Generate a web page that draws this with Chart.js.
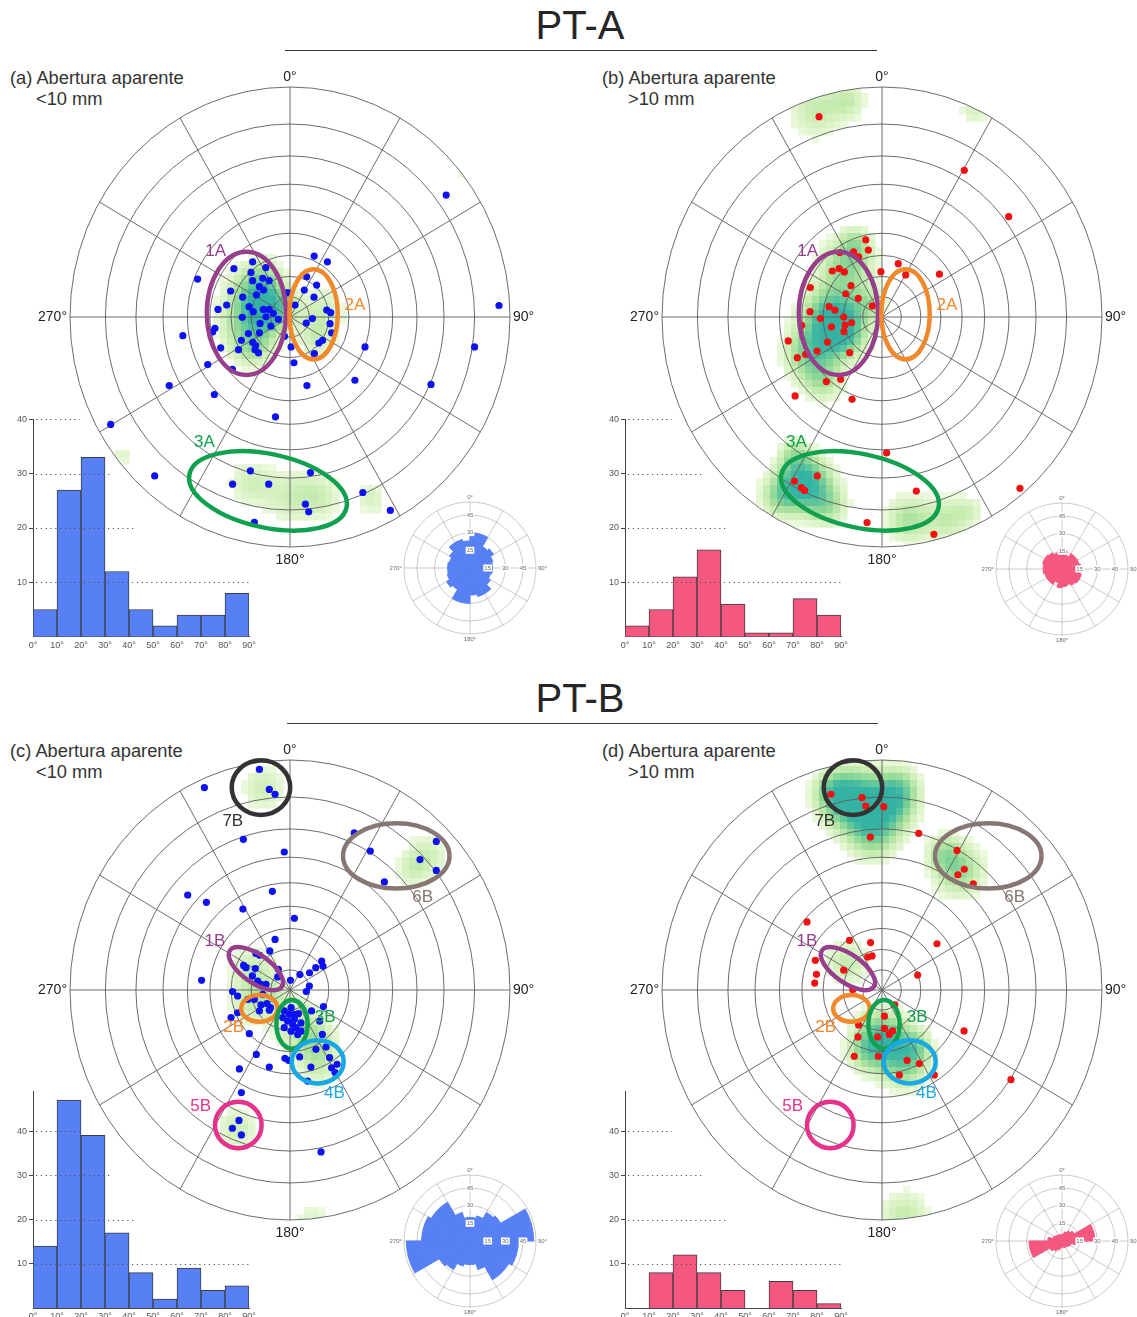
<!DOCTYPE html>
<html lang="pt">
<head>
<meta charset="utf-8">
<title>PT-A / PT-B</title>
<script src="https://cdn.jsdelivr.net/npm/chart.js@4.4.1/dist/chart.umd.min.js"></script>
<style>
  html, body { margin: 0; padding: 0; background: #fff; }
  body { position: relative; width: 1137px; height: 1317px; overflow: hidden; font-family: 'Liberation Sans', Arial, sans-serif; color: #333; }
  canvas, .txt, .rule { position: absolute; }
  .txt { white-space: nowrap; line-height: 1; transform: translateY(-50%); }
  .big { font-size: 40px; color: #262626; transform: translate(-50%, -50%); }
  .sub { font-size: 18.3px; color: #333; }
  .rule { height: 0; border-top: 1.3px solid #3a3a3a; }
</style>
</head>
<body>
<div class="txt big" style="left:580px;top:25px">PT-A</div>
<div class="rule" style="left:285px;top:50px;width:592px"></div>
<div class="txt big" style="left:580px;top:698px">PT-B</div>
<div class="rule" style="left:287px;top:723px;width:591px"></div>

<div class="txt sub" style="left:10px;top:78px">(a) Abertura aparente</div>
<div class="txt sub" style="left:36px;top:99px">&lt;10 mm</div>
<div class="txt sub" style="left:602px;top:78px">(b) Abertura aparente</div>
<div class="txt sub" style="left:628px;top:99px">&gt;10 mm</div>
<div class="txt sub" style="left:10px;top:751px">(c) Abertura aparente</div>
<div class="txt sub" style="left:36px;top:772px">&lt;10 mm</div>
<div class="txt sub" style="left:602px;top:751px">(d) Abertura aparente</div>
<div class="txt sub" style="left:628px;top:772px">&gt;10 mm</div>

<script>
// ---- data ----
// poles, projected (equal angle), in % of the net radius: [east, north]
const ptsA = [
  [71,53],[95,5],[-42,16.5],[11,26.5],[17,24],[-17,24],[-25.5,21],[-11,21.5],[-17.7,19.4],[-17,15.8],
  [-12.4,16.8],[-9.5,15.8],[-13.9,13.2],[-12,11.7],[-15.2,9.6],[-27,11.3],[-21.5,8.6],[-28.8,5.2],[-32.7,3.3],[-18.6,4.5],
  [-12.1,3.3],[-9.5,3.3],[-7.6,1.6],[-10.9,0.1],[-16.7,2.3],[-21.7,-0.1],[-5.3,-1],[7.6,17.5],[12.1,13.9],[6.5,11.7],
  [10.9,8.6],[-1.1,10.6],[2.3,5.2],[16.7,3],[18.5,1.9],[10.2,-0.7],[-13.6,-2.8],[-34.1,-4.9],
  [-8.7,-4],[-18.9,-7.2],[-13.9,-6.9],[-22.1,-10.1],[-16.9,-11],[-15.6,-12.4],[-15.9,-14.2],[-14.3,-15.6],[-23.4,-14.2],[-31.5,-13.4],
  [-35.2,-6.5],[-48.7,-8.1],[-37.4,-20.7],[-26.2,-22.8],[-2.5,-8.4],[0.5,-13],[1.8,-19.9],[7.4,-2.6],[13.1,-11.3],[14.8,-10.1],
  [11.1,-15.9],[18.2,-2.9],[18.9,-6.9],[34.1,-13],[83.9,-13],[64.1,-29.3],[29.5,-27.5],[7.7,-29.8],[-34.4,-33.7],[-54.9,-29.8],
  [-81.5,-46.7],[-6.6,-43.4],[-61.5,-69.1],[-18,-66.9],[-26.1,-72.7],[-9.7,-72.7],[9.3,-67.6],[33.1,-76.3],[7,-81.4],[8.5,-84.7],
  [-16.2,-89.3],[45.6,-84.1]
];
const ptsB = [
  [-28.6,87.1],[37.4,63.8],[57.6,43.6],[-7.4,33.5],[-6.2,29.1],[-12.9,28.3],[-10.6,26.2],[-19.2,28],[-22.6,20],[-19.5,21],
  [-17.1,19.6],[-0.5,19.7],[7.4,23.2],[10.8,18.3],[26.1,18.6],[-32.6,12.8],[-14.1,13.6],[-16.5,10.1],[-10.8,8.1],[-4.4,4.8],
  [-24.1,4.5],[-21.4,3],[-32.7,2.3],[-28,-0.7],[-17.4,0],[-16.8,-3.5],[-13.8,-2.5],[-23,-4.3],[-17.3,-6.4],[-36.5,-3.6],
  [-42.6,-10.4],[-24.8,-10.9],[-38.5,-17.7],[-34.7,-16.2],[-29.5,-14.8],[-14.7,-15.5],[-25.3,-28.1],[-18.8,-27.1],[-39.5,-34.3],[-13.6,-35.8],
  [2.1,-59.1],[-29.4,-69.1],[-39.8,-71.4],[-36.7,-74.2],[-35.2,-75.4],[15.6,-75.7],[-6.8,-89.4],[23.6,-94.5],[62.7,-74.5]
];
const ptsC = [
  [-13.9,95.9],[-9.4,87.2],[-6.8,85.1],[-38.9,88],[-21.2,65.5],[-2.6,60],[29.2,68.3],[36.5,60.4],[42.9,47],[59.1,56.7],
  [66.5,64.6],[66.5,52],[-46.5,41.3],[-38,38.1],[-21.4,35.2],[-8,42.9],[2,31.2],[-6.8,22],[-40.2,4.2],[-9.2,17],
  [-15.5,15.9],[-13.8,15.1],[-21.1,10.7],[-20,9.7],[-15.8,9.3],[-17.1,6.1],[-13.2,2.5],[-10.9,2.5],[-5.6,5.7],[-5.3,9],
  [-14.7,3.9],[0.2,4.2],[4.5,6.7],[8.9,7.5],[11.7,9.7],[14.4,12.6],[15,10.3],[8.8,1.7],[7.4,-0.7],[-26.1,-0.7],
  [-23.8,-2.6],[-19.2,-4.1],[-16.2,-4.1],[-13.2,-6.5],[-10.5,-5.9],[-8.9,-7.7],[-13.9,-9.1],[-23.8,-9.9],[-26.8,-12],[-18.5,-19],
  [-15.3,-28],[-23,-34.3],[-9.4,-33.5],[-2.3,-29.7],[-0.6,-30.6],[4.4,-29.1],[9.5,-33.5],[11.8,-25.8],[16.4,-24.8],[18,-29.4],
  [21.4,-32.3],[18.9,-33.8],[20.5,-35.9],[8,-39.6],[14.7,-19.3],[15.2,-7.2],[9.8,-9.1],[13.5,-13.5],[-2.6,-9.1],[0.5,-7.7],
  [2,-10.6],[3.8,-10.3],[-1.1,-13.5],[1.2,-14.9],[2.7,-16.4],[5,-14.3],[0.5,-17.9],[3.5,-19.3],[-2.6,-16.4],[-3.3,-12],
  [2,-12.6],[5,-17.9],[-0.3,-10.6],[-23.2,-56.7],[-26.2,-60.1],[-22.1,-63],[-22.1,-44.6],[14.1,-70.4],[-9.4,-8.8],[-12.4,-1.9]
];
const ptsD = [
  [-23.2,85.1],[-9.1,83.6],[-7.4,80],[0.8,79.7],[-5.3,66.5],[16.7,68.1],[34.1,60.7],[37.4,52.5],[34.5,50.1],[41.5,46.2],
  [-34.1,29.6],[-14.8,21.6],[-5.2,20.6],[-4.5,14.8],[-6.5,14.3],[25,20.1],[-30.3,12.9],[-29.8,6.8],[-30.6,3],[-17.4,8.6],
  [16.2,6.5],[-13.3,0.1],[5.8,-6.5],[1.1,-11.4],[1.1,-16.7],[4.8,-17.8],[3.3,-19.3],[-2,-20.4],[-10.9,-20.4],[-10.6,-15.2],
  [-12.6,-28.8],[-1.7,-28.8],[11.4,-30.6],[17,-32],[7.9,-37],[23.8,-37],[37.3,-17.8],[58.6,-39]
];

// density maxima: [east, north, spread, level 0-1]
const densA = [
  [-10,4,10,0.9],[-18,10,12,0.45],[-20,-6,12,0.45],[-12,18,8,0.3],[-16,-14,8,0.3],
  [14,2,11,0.3],[12,-10,8,0.25],[-18,-72,10,0.28],[0,-78,12,0.28],[14,-78,10,0.26],
  [37,-79,7,0.25],[-76,-60,5,0.2],[79,62,5,0.15]
];
const densB = [
  [-22,-1,13,1.0],[-18,-8,10,0.5],[-16,22,12,0.55],[-12,32,7,0.35],[-33,-16,11,0.6],[-27,-28,9,0.4],[-6,6,7,0.3],
  [-35,-72,11,1.0],[-46,-78,9,0.5],[-25,-82,9,0.45],[-40,-60,7,0.35],
  [12,-88,10,0.45],[30,-88,10,0.35],[40,-84,6,0.2],[-30,90,12,0.35],[-15,94,8,0.3],[42,90,7,0.25]
];
const densC = [
  [-12,88,10,0.3],[62,58,10,0.3],[55,52,7,0.2],[-17,10,10,0.3],[-18,-5,10,0.3],[-8,-2,8,0.25],
  [3,-15,11,0.35],[12,-22,9,0.3],[13,-32,10,0.3],[-24,-60,9,0.32],[10,-99,8,0.2]
];
const densD = [
  [-12,82,13,1.0],[-22,86,9,0.5],[4,80,11,0.65],[-4,68,11,0.55],[8,88,9,0.45],
  [35,52,11,0.55],[28,60,8,0.35],[-16,12,10,0.35],
  [0,-20,11,0.75],[10,-31,11,0.65],[-7,-27,9,0.4],[15,-24,7,0.35],[10,-98,11,0.35]
];

// families: centre, half axes (% of radius), tilt, label spot
const famA = [
  {id:'1A', x:-19.8, y:1.6, a:18, b:26.8, rot:0, color:'#973f8d', lx:-33.8, ly:28.7},
  {id:'2A', x:10.7, y:1.2, a:11, b:19.6, rot:0, color:'#f0892c', lx:29.5, ly:5.2},
  {id:'3A', x:-10, y:-75.6, a:36.5, b:16, rot:12, color:'#11a050', lx:-38.9, ly:-54.6}
];
const famB = [
  {id:'7B', x:-13.2, y:88, a:13.3, b:11.9, rot:0, color:'#333333', lx:-26, ly:73.5},
  {id:'6B', x:48.3, y:58.3, a:24.2, b:14.2, rot:0, color:'#877673', lx:60.3, ly:40.4},
  {id:'1B', x:-15.5, y:9.3, a:14.4, b:6.1, rot:35, color:'#973f8d', lx:-34.1, ly:21},
  {id:'2B', x:-13.9, y:-8, a:8.3, b:5.8, rot:0, color:'#f0892c', lx:-25.6, ly:-16.1},
  {id:'3B', x:0.9, y:-14.9, a:7.1, b:10.6, rot:0, color:'#11a050', lx:16, ly:-12},
  {id:'4B', x:12.6, y:-31.2, a:11.8, b:9.4, rot:0, color:'#1aa8e5', lx:20.2, ly:-45},
  {id:'5B', x:-23.5, y:-58.7, a:10.6, b:10.1, rot:0, color:'#e4338b', lx:-40.6, ly:-50.7}
];

const ringDips = [10, 20, 30, 40, 50, 60, 70, 80, 90];
const spokeAz = [0, 30, 60, 90, 120, 150, 180, 210, 240, 270, 300, 330];

// dip histograms (10 degree classes)
const binStarts = [0, 10, 20, 30, 40, 50, 60, 70, 80];
const histA = [5, 27, 33, 12, 5, 2, 4, 4, 8];
const histB = [2, 5, 11, 16, 6, 0.7, 0.7, 7, 4];
const histC = [14, 47, 39, 17, 8, 2, 9, 4, 5];
const histD = [0, 8, 12, 8, 4, 0, 6, 4, 1];
const histTicks = [10, 20, 30, 40];

// rose diagrams, 15 degree sectors from 0 to 180 (mirrored for 180-360)
const roseA = [30, 30, 21, 23, 20, 19, 19, 18, 20, 25, 25, 23];
const roseB = [16, 12, 15, 15, 15, 16, 16, 17, 17, 16, 14, 15];
const roseC = [20, 22, 28, 30, 54, 54, 41, 41, 38, 38, 25, 20];
const roseD = [6, 8, 10, 12, 28, 28, 12, 8, 7, 6, 6, 5];
const roseRings = [15, 30, 45];
const roseMax = 56;

const BLUE = '#0c12f2', RED = '#f01212';
const BAR_BLUE = '#5680f4', BAR_PINK = '#f5587f';
const FONT = "'Liberation Sans', Arial, sans-serif";

Chart.defaults.font.family = FONT;
Chart.defaults.animation = false;

function mk(left, top, w, h) {
  const c = document.createElement('canvas');
  c.width = w; c.height = h;
  c.style.left = left + 'px'; c.style.top = top + 'px';
  c.style.width = w + 'px'; c.style.height = h + 'px';
  document.body.appendChild(c);
  return c;
}

const densStops = [
  [0.12, [236, 249, 222]], [0.3, [208, 239, 184]], [0.5, [165, 223, 155]],
  [0.7, [115, 205, 150]], [0.85, [76, 190, 160]], [1, [52, 178, 164]]
];
function densColor(f) {
  if (f < 0.12) return null;
  f = Math.min(f, 1);
  for (let i = 1; i < densStops.length; i++) {
    const [v0, c0] = densStops[i - 1], [v1, c1] = densStops[i];
    if (f <= v1) {
      const t = (f - v0) / (v1 - v0);
      return 'rgb(' + c0.map((c, k) => Math.round(c + (c1[k] - c) * t)).join(',') + ')';
    }
  }
  return 'rgb(52,178,164)';
}

function stereoDeco(blobs, fams) {
  return {
    id: 'stereoDeco',
    beforeDatasetsDraw(chart) {
      const {ctx, scales: {x, y}} = chart;
      const cx = x.getPixelForValue(0), cy = y.getPixelForValue(0);
      const rx = x.getPixelForValue(100) - cx, ry = cy - y.getPixelForValue(100);
      ctx.save();
      ctx.beginPath();
      ctx.ellipse(cx, cy, rx, ry, 0, 0, Math.PI * 2);
      ctx.clip();
      const cs = 7;
      const x0 = cx - Math.ceil(rx / cs) * cs, y0 = cy - Math.ceil(ry / cs) * cs;
      for (let py = y0; py < cy + ry; py += cs) {
        for (let px = x0; px < cx + rx; px += cs) {
          const vx = x.getValueForPixel(px + cs / 2), vy = y.getValueForPixel(py + cs / 2);
          let f = 0;
          for (const b of blobs) {
            const dx = vx - b[0], dy = vy - b[1];
            f += b[3] * Math.exp(-(dx * dx + dy * dy) / (b[2] * b[2]));
          }
          const col = densColor(f);
          if (!col) continue;
          ctx.fillStyle = col;
          ctx.fillRect(px, py, cs + 0.6, cs + 0.6);
        }
      }
      ctx.restore();

      ctx.save();
      ctx.strokeStyle = '#5c5c5c';
      ctx.lineWidth = 0.9;
      for (const d of ringDips) {
        const t = Math.tan(d / 2 * Math.PI / 180);
        ctx.beginPath();
        ctx.ellipse(cx, cy, x.getPixelForValue(100 * t) - cx, cy - y.getPixelForValue(100 * t), 0, 0, Math.PI * 2);
        ctx.stroke();
      }
      for (const az of spokeAz) {
        const a = az * Math.PI / 180;
        ctx.beginPath();
        ctx.moveTo(cx, cy);
        ctx.lineTo(x.getPixelForValue(100 * Math.sin(a)), y.getPixelForValue(100 * Math.cos(a)));
        ctx.stroke();
      }
      ctx.restore();
    },
    afterDatasetsDraw(chart) {
      const {ctx, scales: {x, y}} = chart;
      const kx = x.getPixelForValue(1) - x.getPixelForValue(0);
      const ky = y.getPixelForValue(0) - y.getPixelForValue(1);
      ctx.save();
      for (const e of fams) {
        ctx.beginPath();
        ctx.ellipse(x.getPixelForValue(e.x), y.getPixelForValue(e.y), e.a * kx, e.b * ky, e.rot * Math.PI / 180, 0, Math.PI * 2);
        ctx.strokeStyle = e.color;
        ctx.lineWidth = 4.5;
        ctx.stroke();
      }
      ctx.font = '17px ' + FONT;
      ctx.textAlign = 'center';
      ctx.textBaseline = 'middle';
      for (const e of fams) {
        ctx.fillStyle = e.color;
        ctx.fillText(e.id, x.getPixelForValue(e.lx), y.getPixelForValue(e.ly));
      }
      ctx.restore();
    },
    afterDraw(chart) {
      const {ctx, scales: {x, y}} = chart;
      const cx = x.getPixelForValue(0), cy = y.getPixelForValue(0);
      ctx.save();
      ctx.font = '14px ' + FONT;
      ctx.fillStyle = '#222';
      ctx.textBaseline = 'middle';
      ctx.textAlign = 'center';
      ctx.fillText('0°', cx, y.getPixelForValue(100) - 10);
      ctx.fillText('180°', cx, y.getPixelForValue(-100) + 13);
      ctx.textAlign = 'left';
      ctx.fillText('90°', x.getPixelForValue(100) + 3, cy);
      ctx.textAlign = 'right';
      ctx.fillText('270°', x.getPixelForValue(-100) - 3, cy);
      ctx.restore();
    }
  };
}

function stereo(cx, cy, pts, color, blobs, fams) {
  const c = mk(cx - 275, cy - 262, 550, 524);
  return new Chart(c, {
    type: 'scatter',
    data: {datasets: [{
      data: pts.map(p => ({x: p[0], y: p[1]})),
      pointRadius: 3.6, pointHoverRadius: 3.6,
      pointBackgroundColor: color, pointBorderWidth: 0
    }]},
    options: {
      responsive: false, events: [],
      layout: {padding: {left: 55, right: 55, top: 32, bottom: 32}},
      scales: {
        x: {type: 'linear', min: -100, max: 100, display: false},
        y: {type: 'linear', min: -100, max: 100, display: false}
      },
      plugins: {legend: {display: false}, tooltip: {enabled: false}}
    },
    plugins: [stereoDeco(blobs, fams)]
  });
}

const dotTo = {40: 19.5, 30: 32.4, 20: 43, 10: 90};
const dotLines = {
  id: 'dotLines',
  afterDatasetsDraw(chart) {
    const {ctx, chartArea: ca, scales: {x, y}} = chart;
    ctx.save();
    ctx.strokeStyle = '#555';
    ctx.lineWidth = 1.2;
    ctx.setLineDash([1.2, 3.6]);
    for (const v of histTicks) {
      const py = Math.round(y.getPixelForValue(v)) + 0.5;
      ctx.beginPath();
      ctx.moveTo(ca.left + 3, py);
      ctx.lineTo(x.getPixelForValue(dotTo[v]), py);
      ctx.stroke();
    }
    ctx.restore();
  }
};

function hist(left, top, h, padT, axisH, yMax, counts, color) {
  const c = mk(left, top, 262, h);
  return new Chart(c, {
    type: 'bar',
    data: {datasets: [{
      data: binStarts.map((b, i) => ({x: b + 5, y: counts[i]})),
      backgroundColor: color, borderColor: '#3c3c3c', borderWidth: 1,
      barPercentage: 1, categoryPercentage: 1
    }]},
    options: {
      responsive: false, events: [],
      layout: {padding: {left: 0, right: 13, top: padT, bottom: 0}},
      scales: {
        x: {
          type: 'linear', min: 0, max: 90, offset: false,
          grid: {display: false, drawTicks: false, offset: false},
          border: {display: true, color: '#444', width: 1},
          ticks: {stepSize: 10, padding: 3, autoSkip: false, maxRotation: 0, font: {size: 9}, color: '#555', callback: v => v + '°'},
          afterFit: s => { s.height = axisH; }
        },
        y: {
          type: 'linear', min: 0, max: yMax,
          grid: {display: true, drawOnChartArea: false, drawTicks: true, tickLength: 4, color: '#444'},
          border: {display: true, color: '#444', width: 1},
          ticks: {padding: 2, font: {size: 9}, color: '#555'},
          afterBuildTicks: s => { s.ticks = histTicks.map(v => ({value: v})); },
          afterFit: s => { s.width = 33; }
        }
      },
      plugins: {legend: {display: false}, tooltip: {enabled: false}}
    },
    plugins: [dotLines]
  });
}

const roseDeco = {
  id: 'roseDeco',
  afterDraw(chart) {
    const s = chart.scales.r, ctx = chart.ctx;
    const cx = s.xCenter, cy = s.yCenter, R = s.drawingArea;
    ctx.save();
    ctx.font = '6px ' + FONT;
    ctx.fillStyle = '#6a6a6a';
    ctx.textBaseline = 'middle';
    ctx.textAlign = 'center';
    ctx.fillText('0°', cx, cy - R - 5);
    ctx.fillText('180°', cx, cy + R + 5);
    ctx.textAlign = 'left';
    ctx.fillText('90°', cx + R + 2, cy);
    ctx.textAlign = 'right';
    ctx.fillText('270°', cx - R - 2, cy);
    ctx.textAlign = 'center';
    for (const v of roseRings) {
      const d = s.getDistanceFromCenterForValue(v);
      const w = ctx.measureText(String(v)).width + 2;
      for (const [px, py] of [[cx, cy - d], [cx + d, cy]]) {
        ctx.fillStyle = '#fff';
        ctx.fillRect(px - w / 2, py - 3.5, w, 7);
        ctx.fillStyle = '#6a6a6a';
        ctx.fillText(String(v), px, py);
      }
    }
    ctx.restore();
  }
};

function rose(cx, cy, half, color) {
  const R = 66, pad = 14, size = 2 * (R + pad);
  const c = mk(cx - size / 2, cy - size / 2, size, size);
  const full = half.concat(half);
  const gridCol = 'rgba(110,110,110,0.45)';
  return new Chart(c, {
    type: 'polarArea',
    data: {
      labels: full.map((v, i) => (i * 15) + '°'),
      datasets: [{data: full, backgroundColor: color, borderColor: color, borderWidth: 1}]
    },
    options: {
      responsive: false, events: [],
      layout: {padding: pad},
      scales: {r: {
        min: 0, max: roseMax, startAngle: 0, z: 1,
        ticks: {display: false},
        afterBuildTicks: s => { s.ticks = [0].concat(roseRings, [roseMax]).map(v => ({value: v})); },
        grid: {color: gridCol, lineWidth: 0.8, circular: true},
        angleLines: {display: true, lineWidth: 0.8, color: ctx => ctx.index % 2 ? 'rgba(0,0,0,0)' : gridCol},
        pointLabels: {display: false}
      }},
      plugins: {legend: {display: false}, tooltip: {enabled: false}}
    },
    plugins: [roseDeco]
  });
}

// histograms first (under the nets), then nets, then roses
hist(0, 405, 252, 14.3, 20.3, 40, histA, BAR_BLUE);
hist(592, 405, 252, 14.3, 20.3, 40, histB, BAR_PINK);
hist(0, 1080, 237, 11.2, 9, 49, histC, BAR_BLUE);
hist(592, 1080, 237, 11.2, 9, 49, histD, BAR_PINK);

stereo(290, 317, ptsA, BLUE, densA, famA);
stereo(882, 317, ptsB, RED, densB, famA);
stereo(290, 990, ptsC, BLUE, densC, famB);
stereo(882, 990, ptsD, RED, densD, famB);

rose(470, 568, roseA, BAR_BLUE);
rose(1062, 569, roseB, BAR_PINK);
rose(470, 1241, roseC, BAR_BLUE);
rose(1062, 1241, roseD, BAR_PINK);
</script>
</body>
</html>
